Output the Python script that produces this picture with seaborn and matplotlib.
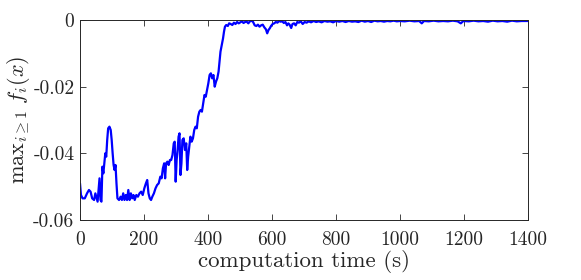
import matplotlib
matplotlib.use("Agg")
import matplotlib.pyplot as plt
import numpy as np
import seaborn as sns

# tiempos (s) y valor de max_{i>=1} f_i(x)
tiempos = [0, 3, 8, 15, 22, 28, 33, 38, 44, 48, 52, 55, 58, 61, 64, 67, 70, 73, 76, 79,
           82, 85, 88, 92, 96, 99, 102, 105, 108, 111, 114, 117, 122, 127, 131, 135, 139, 143, 147, 151,
           155, 159, 163, 167, 171, 176, 181, 186, 191, 196, 201, 206, 210, 214, 218, 222, 226, 231, 236, 241,
           246, 251, 255, 259, 263, 266, 269, 273, 277, 281, 285, 289, 293, 296, 299, 302, 305, 308, 311, 314,
           317, 320, 324, 328, 332, 335, 338, 341, 345, 349, 353, 357, 361, 365, 369, 373, 377, 381, 385, 389,
           393, 397, 401, 405, 409, 413, 417, 421, 425, 429, 433, 436, 439, 443, 447, 450, 453, 457, 462, 466,
           471, 476, 481, 486, 491, 496, 501, 506, 511, 516, 521, 526, 531, 536, 541, 546, 551, 556, 561, 566,
           571, 576, 581, 585, 589, 593, 597, 602, 607, 612, 617, 622, 627, 632, 637, 642, 647, 651, 655, 660,
           664, 669, 674, 679, 684, 690, 696, 702, 708, 715, 722, 730, 738, 746, 755, 764, 773, 782, 791, 800,
           810, 820, 830, 840, 850, 860, 870, 880, 890, 900, 910, 920, 930, 940, 950, 960, 970, 980, 990, 1000,
           1015, 1030, 1045, 1060, 1068, 1075, 1090, 1105, 1120, 1135, 1150, 1165, 1180, 1190, 1198, 1215, 1230, 1245, 1260, 1275,
           1290, 1305, 1320, 1335, 1350, 1365, 1380, 1400]

valores = [-0.049, -0.0525, -0.0535, -0.0535, -0.052, -0.051, -0.0515, -0.0535, -0.054, -0.052,
           -0.0535, -0.0545, -0.051, -0.0475, -0.054, -0.0545, -0.044, -0.046, -0.043, -0.040,
           -0.041, -0.036, -0.0325, -0.032, -0.033, -0.036, -0.040, -0.0435, -0.045, -0.0435,
           -0.049, -0.0535, -0.054, -0.053, -0.054, -0.052, -0.054, -0.0525, -0.054, -0.051,
           -0.054, -0.052, -0.0535, -0.0525, -0.054, -0.0525, -0.053, -0.052, -0.0515, -0.0525,
           -0.0505, -0.049, -0.048, -0.052, -0.0535, -0.054, -0.053, -0.052, -0.0505, -0.0495,
           -0.049, -0.047, -0.0475, -0.0445, -0.043, -0.0475, -0.043, -0.0425, -0.0435, -0.042,
           -0.042, -0.0405, -0.037, -0.0365, -0.0485, -0.042, -0.039, -0.035, -0.034, -0.0465,
           -0.043, -0.036, -0.0355, -0.039, -0.037, -0.045, -0.041, -0.0385, -0.035, -0.0365,
           -0.0355, -0.033, -0.032, -0.0325, -0.029, -0.0275, -0.027, -0.0275, -0.025, -0.0225,
           -0.023, -0.021, -0.019, -0.0165, -0.016, -0.0175, -0.0165, -0.020, -0.0185, -0.0175,
           -0.0155, -0.0125, -0.0095, -0.0075, -0.0055, -0.0035, -0.002, -0.0015, -0.0018, -0.0010,
           -0.0012, -0.0015, -0.0008, -0.0012, -0.0006, -0.0010, -0.0007, -0.0004, -0.0009, -0.0006,
           -0.0005, -0.0010, -0.0004, -0.0002, -0.0006, -0.0016, -0.0018, -0.0014, -0.0020, -0.0016,
           -0.0014, -0.0022, -0.0028, -0.0040, -0.0030, -0.0025, -0.0018, -0.0012, -0.0010, -0.0006,
           -0.0008, -0.0003, -0.0005, -0.0004, -0.0009, -0.0006, -0.0016, -0.0010, -0.0014, -0.0024,
           -0.0012, -0.0010, -0.0016, -0.0006, -0.0008, -0.0004, -0.0012, -0.0006, -0.0008, -0.0004,
           -0.0007, -0.0003, -0.0006, -0.0004, -0.0007, -0.0003, -0.0005, -0.0004, -0.0007, -0.0003,
           -0.0005, -0.0003, -0.0006, -0.0003, -0.0005, -0.0004, -0.0006, -0.0002, -0.0005, -0.0003,
           -0.0006, -0.0002, -0.0004, -0.0003, -0.0005, -0.0003, -0.0004, -0.0002, -0.0004, -0.0003,
           -0.0004, -0.0002, -0.0004, -0.0003, -0.0010, -0.0003, -0.0004, -0.0002, -0.0004, -0.0003,
           -0.0004, -0.0002, -0.0004, -0.0010, -0.0003, -0.0004, -0.0002, -0.0004, -0.0003, -0.0005,
           -0.0002, -0.0004, -0.0003, -0.0005, -0.0002, -0.0004, -0.0003, -0.0003]

xticks = [0, 200, 400, 600, 800, 1000, 1200, 1400]
yticks = [-0.06, -0.04, -0.02, 0]
ytick_labels = ["-0.06", "-0.04", "-0.02", "0"]

sns.set_style("ticks")
plt.rcParams["font.family"] = ["cmr10", "DejaVu Serif"]
plt.rcParams["mathtext.fontset"] = "cm"
plt.rcParams["axes.unicode_minus"] = False
plt.rcParams["axes.formatter.use_mathtext"] = True

gris = "#262626"
fig = plt.figure(figsize=(5.81, 2.80), dpi=100)
ax = fig.add_axes([80 / 581, 1 - 220 / 280, 448 / 581, 200 / 280])

sns.lineplot(x=tiempos, y=valores, ax=ax, color="#0000ff", linewidth=1.6)

ax.set_xlim(0, 1400)
ax.set_ylim(-0.06, 0)
ax.set_xticks(xticks)
ax.set_xticklabels([str(t) for t in xticks])
ax.set_yticks(yticks)
ax.set_yticklabels(ytick_labels)
ax.tick_params(direction="in", top=True, right=True, length=4, width=0.6,
               labelsize=14, colors=gris, pad=4)
ax.tick_params(axis="x", pad=8)
for s in ax.spines.values():
    s.set_color(gris)
    s.set_linewidth(0.7)

ax.set_xlabel("computation time (s)", fontsize=16.5, color=gris, labelpad=1)
ax.set_ylabel(r"$\mathrm{max}_{i\geq 1}\ f_i(x)$", fontsize=16, color=gris, labelpad=1)

plt.savefig("out.png", dpi=100)
